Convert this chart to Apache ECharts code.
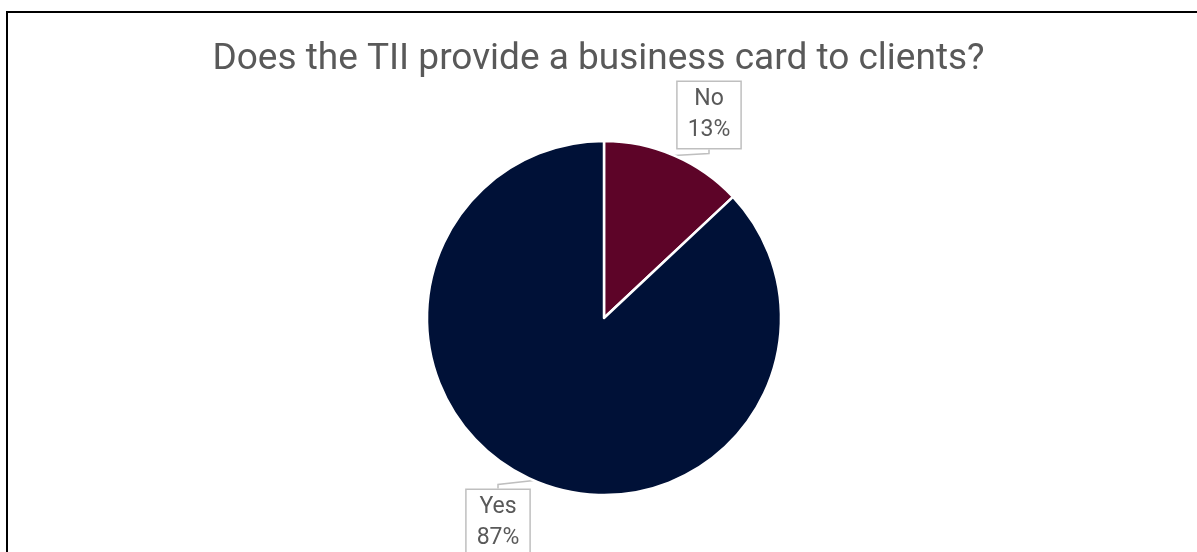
<!DOCTYPE html>
<html>
<head>
<meta charset="utf-8">
<title>Business card survey</title>
<script src="https://cdn.jsdelivr.net/npm/echarts@6/dist/echarts.min.js"></script>
<style>
  html, body { margin: 0; padding: 0; background: #ffffff; }
  #chart { width: 1197px; height: 552px; }
</style>
</head>
<body>
<div id="chart"></div>
<script>
// Survey answers and their shares (%)
const categories = ['No', 'Yes'];
const shares = [13, 87];
const sliceColors = ['#5d0428', '#001137'];
const titleText = 'Does the TII provide a business card to clients?';

const chart = echarts.init(document.getElementById('chart'), null, { renderer: 'canvas' });

// Callout box centres, per category
const calloutPos = {
  No: { x: 709, y: 115 },
  Yes: { x: 498, y: 523 }
};

chart.setOption({
  animation: false,
  backgroundColor: '#ffffff',
  title: {
    text: titleText,
    left: 'center',
    top: 36,
    textStyle: {
      fontFamily: 'Roboto',
      fontSize: 37,
      fontWeight: 'normal',
      color: '#595959'
    }
  },
  graphic: [{
    type: 'rect',
    silent: true,
    shape: { x: 7, y: 12, width: 1400, height: 800 },
    style: { fill: 'none', stroke: '#000000', lineWidth: 2 }
  }],
  series: [{
    type: 'pie',
    center: [604, 318],
    radius: [0, 177],
    startAngle: 90,
    clockwise: true,
    data: categories.map((c, i) => ({
      name: c,
      value: shares[i],
      itemStyle: { color: sliceColors[i] }
    })),
    itemStyle: { borderColor: '#ffffff', borderWidth: 2.5 },
    label: {
      show: true,
      position: 'outside',
      formatter: p => p.name + '\n' + p.value + '%',
      fontFamily: 'Roboto',
      fontSize: 23,
      color: '#595959',
      lineHeight: 31,
      align: 'center',
      backgroundColor: '#ffffff',
      borderColor: '#bfbfbf',
      borderWidth: 1.5,
      padding: [2, 10, 2, 10]
    },
    labelLine: {
      show: true,
      length: 8,
      length2: 4,
      lineStyle: { color: '#bfbfbf', width: 1.5 }
    },
    labelLayout: params => {
      const name = categories[params.dataIndex];
      const p = calloutPos[name];
      return { x: p.x, y: p.y, align: 'center', verticalAlign: 'middle' };
    }
  }]
});
</script>
</body>
</html>
